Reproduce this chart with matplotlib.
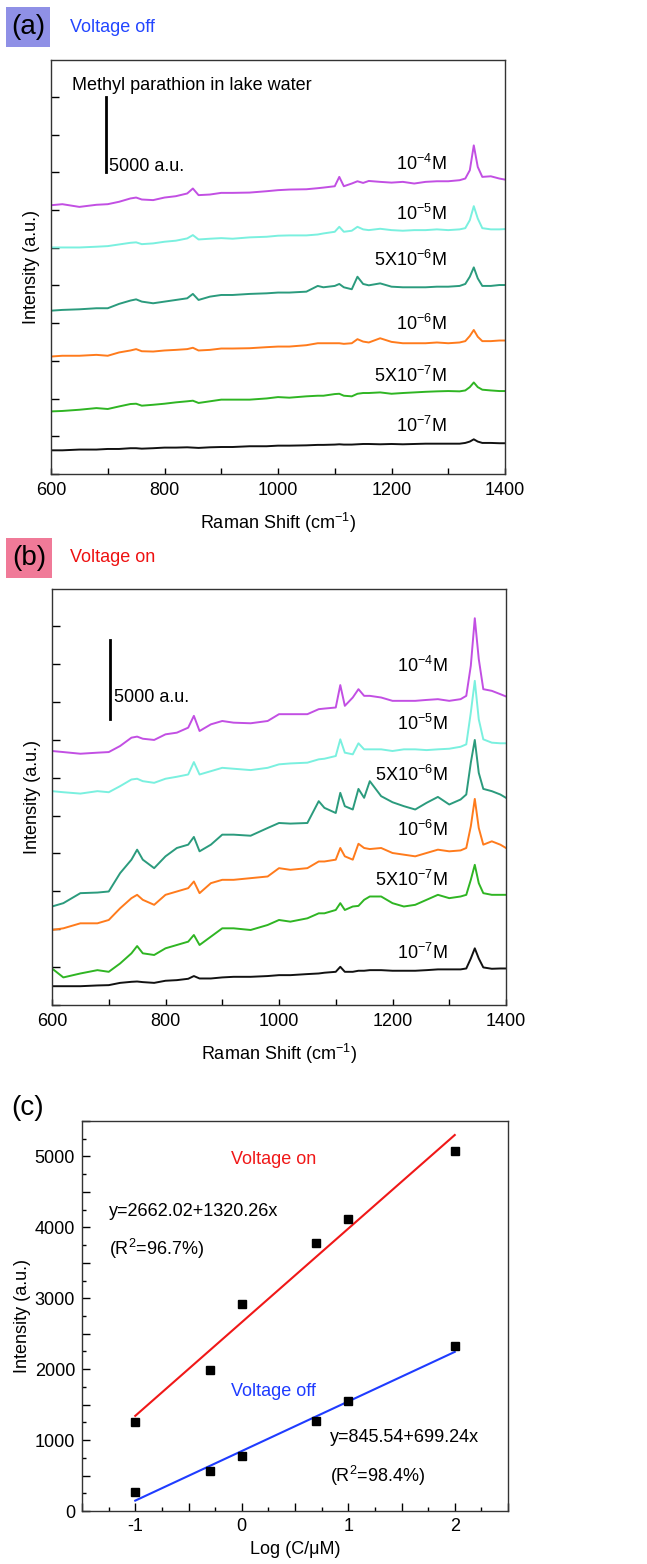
import matplotlib
matplotlib.use('Agg')
import matplotlib.pyplot as plt
from matplotlib.patches import Rectangle
from matplotlib.ticker import MultipleLocator, FuncFormatter

plt.rcParams['font.family'] = ['Liberation Sans', 'DejaVu Sans']
plt.rcParams['mathtext.default'] = 'regular'
plt.rcParams['font.size'] = 13

# eje x comun (Raman shift, cm-1)
shift = [600, 620, 650, 680, 700, 720, 740, 750, 760, 780,
         800, 820, 840, 850, 860, 880, 900, 920, 950, 980,
         1000, 1020, 1050, 1070, 1080, 1100, 1108, 1116, 1130, 1140,
         1150, 1160, 1180, 1200, 1220, 1240, 1260, 1280, 1300, 1320,
         1330, 1338, 1345, 1352, 1360, 1375, 1390, 1400]

etiquetas = ['10$^{-4}$M', '10$^{-5}$M', '5X10$^{-6}$M',
             '10$^{-6}$M', '5X10$^{-7}$M', '10$^{-7}$M']

# (a) voltage off, espectros apilados (a.u.)
off_1e4 = [17820, 17890, 17710, 17850, 17890, 18050, 18270, 18330, 18200, 18160,
           18330, 18420, 18600, 18930, 18490, 18530, 18640, 18640, 18660, 18750,
           18820, 18860, 18880, 18950, 18990, 19080, 19700, 19080, 19260, 19410,
           19300, 19430, 19370, 19320, 19370, 19260, 19370, 19410, 19410, 19480,
           19590, 20140, 21790, 20360, 19700, 19740, 19590, 19520]
off_1e5 = [15020, 15020, 15020, 15070, 15110, 15220, 15330, 15360, 15240, 15290,
           15400, 15470, 15620, 15840, 15550, 15600, 15640, 15600, 15690, 15730,
           15800, 15820, 15820, 15880, 15950, 16060, 16390, 16060, 16130, 16390,
           16220, 16170, 16260, 16170, 16130, 16170, 16170, 16220, 16170, 16220,
           16300, 16830, 17760, 16940, 16300, 16220, 16220, 16240]
off_5e6 = [10830, 10880, 10920, 10990, 10990, 11280, 11500, 11580, 11430, 11320,
           11430, 11540, 11650, 11940, 11540, 11760, 11870, 11870, 11940, 11980,
           12030, 12030, 12090, 12470, 12380, 12470, 12600, 12380, 12250, 13080,
           12600, 12510, 12640, 12420, 12380, 12380, 12380, 12420, 12420, 12470,
           12600, 13080, 13700, 12970, 12470, 12470, 12530, 12530]
off_1e6 = [7790, 7840, 7840, 7900, 7840, 8060, 8190, 8280, 8140, 8120,
           8190, 8230, 8280, 8370, 8190, 8230, 8320, 8320, 8340, 8410,
           8450, 8450, 8540, 8670, 8670, 8670, 8670, 8630, 8670, 8940,
           8780, 8720, 9000, 8760, 8670, 8670, 8670, 8720, 8670, 8720,
           8810, 9150, 9550, 9100, 8810, 8810, 8850, 8850]
off_5e7 = [4150, 4180, 4260, 4370, 4310, 4480, 4640, 4660, 4530, 4590,
           4660, 4750, 4820, 4860, 4710, 4820, 4930, 4930, 4930, 5010,
           5100, 5060, 5150, 5190, 5190, 5300, 5320, 5190, 5150, 5320,
           5370, 5370, 5410, 5320, 5370, 5410, 5450, 5480, 5500, 5480,
           5540, 5760, 6070, 5760, 5590, 5540, 5500, 5500]
off_1e7 = [1570, 1570, 1620, 1620, 1660, 1660, 1710, 1710, 1680, 1710,
           1750, 1750, 1770, 1750, 1730, 1770, 1790, 1790, 1840, 1840,
           1880, 1880, 1900, 1930, 1930, 1950, 1970, 1950, 1950, 1970,
           1990, 1990, 1970, 1990, 1970, 1990, 2010, 2010, 2010, 2010,
           2060, 2150, 2300, 2150, 2060, 2060, 2040, 2040]

# (b) voltage on
on_1e4 = [16760, 16690, 16580, 16650, 16690, 17090, 17640, 17710, 17570, 17490,
          17860, 17970, 18300, 19080, 18080, 18520, 18740, 18630, 18590, 18740,
          19190, 19190, 19190, 19520, 19560, 19630, 21110, 19740, 20290, 20840,
          20400, 20400, 20290, 20070, 20070, 20070, 20130, 20180, 20070, 20180,
          20400, 22390, 25520, 22830, 20840, 20730, 20510, 20360]
on_1e5 = [14110, 14040, 13950, 14110, 14040, 14440, 14880, 14930, 14770, 14660,
          14930, 15060, 15210, 16030, 15210, 15430, 15650, 15590, 15500, 15650,
          15880, 15940, 15990, 16210, 16250, 16430, 17530, 16650, 16540, 17270,
          16870, 16870, 16870, 16760, 16870, 16870, 16820, 16870, 16910, 17040,
          17200, 19300, 21390, 18850, 17530, 17310, 17270, 17270]
on_5e6 = [6500, 6720, 7380, 7420, 7490, 8700, 9590, 10250, 9590, 9030,
          9810, 10360, 10580, 11090, 10140, 10580, 11240, 11240, 11170, 11680,
          12010, 11970, 12010, 13450, 13010, 12670, 14000, 13120, 12900, 14260,
          13670, 14770, 13780, 13380, 13120, 12900, 13340, 13730, 13230, 13560,
          13890, 15990, 17490, 15320, 14260, 14110, 13890, 13670]
on_1e6 = [4950, 5060, 5390, 5390, 5610, 6380, 7050, 7270, 6940, 6610,
          7270, 7490, 7710, 8150, 7380, 8040, 8260, 8260, 8370, 8480,
          9030, 8920, 9030, 9470, 9470, 9590, 10360, 9810, 9590, 10640,
          10360, 10290, 10360, 10030, 9920, 9810, 10030, 10250, 10140, 10200,
          10360, 11790, 13600, 11680, 10580, 10800, 10580, 10360]
on_5e7 = [2410, 1820, 2080, 2300, 2190, 2740, 3410, 3890, 3410, 3300,
          3740, 3960, 4180, 4620, 3960, 4510, 5060, 5060, 4950, 5280,
          5610, 5500, 5720, 6050, 6050, 6270, 6720, 6270, 6500, 6540,
          6940, 7160, 7160, 6720, 6500, 6610, 6940, 7270, 7050, 7160,
          7270, 8260, 9250, 8040, 7380, 7270, 7270, 7270]
on_1e7 = [1240, 1240, 1240, 1290, 1310, 1460, 1530, 1550, 1510, 1460,
          1600, 1640, 1730, 1910, 1750, 1750, 1820, 1860, 1860, 1910,
          1970, 1970, 2040, 2080, 2130, 2190, 2520, 2190, 2190, 2260,
          2260, 2300, 2300, 2260, 2260, 2260, 2300, 2350, 2350, 2350,
          2410, 3070, 3740, 3070, 2480, 2390, 2410, 2410]

# (c) intensidad del pico 1345 cm-1 vs log(C/uM)
log_c = [-1, -0.3, 0, 0.7, 1, 2]
pico_on = [1250, 1990, 2920, 3780, 4120, 5070]
pico_off = [270, 565, 780, 1275, 1545, 2320]
ajuste_on = [2662.02, 1320.26]
ajuste_off = [845.54, 699.24]

colores = ['#c24fe3', '#7af0df', '#2b9b7d', '#ff7b1c', '#2fb523', '#111111']

W, H = 647, 1564
fig = plt.figure(figsize=(W / 100, H / 100), dpi=100)


def caja(x0, y0, x1, y1):
    return [x0 / W, 1 - y1 / H, (x1 - x0) / W, (y1 - y0) / H]


def encabezado(letra, texto, color_caja, color_texto, x0, y0, x1, y1):
    if color_caja is not None:
        fig.add_artist(Rectangle((x0 / W, 1 - y1 / H), (x1 - x0) / W, (y1 - y0) / H,
                                 transform=fig.transFigure, facecolor=color_caja,
                                 edgecolor='none'))
    fig.text((x0 + x1) / 2 / W, 1 - (y0 + y1) / 2 / H, letra, ha='center',
             va='center', fontsize=20)
    if texto:
        fig.text(70 / W, 1 - (y0 + y1) / 2 / H, texto, ha='left', va='center',
                 fontsize=13, color=color_texto)


def estilo(ax):
    for s in ax.spines.values():
        s.set_color('#333333')
        s.set_linewidth(1.0)


def graficador_espectros(ax, curvas, y_etiquetas, barra, y_texto):
    for y, c in zip(curvas, colores):
        ax.plot(shift, y, color=c, lw=1.4)
    for lab, yy in zip(etiquetas, y_etiquetas):
        ax.text(1297, yy, lab, ha='right', va='center', fontsize=13)
    ax.plot([barra[0], barra[0]], [barra[1], barra[2]], color='black', lw=2)
    ax.text(barra[0] + 6, y_texto, '5000 a.u.', ha='left', va='center', fontsize=13)
    ax.set_xlim(600, 1400)
    ax.set_ylim(0, 27450)
    ax.xaxis.set_major_locator(MultipleLocator(200))
    ax.xaxis.set_minor_locator(MultipleLocator(100))
    ax.yaxis.set_major_locator(MultipleLocator(2500))
    ax.tick_params(which='both', direction='in', length=4, width=1,
                   labelleft=False, labelsize=13, pad=6)
    ax.tick_params(axis='y', length=6)
    ax.set_xlabel('Raman Shift (cm$^{-1}$)', fontsize=13, labelpad=8)
    ax.set_ylabel('Intensity (a.u.)', fontsize=13, labelpad=8)
    estilo(ax)


# panel (a)
encabezado('(a)', 'Voltage off', '#8f90e6', '#2346ff', 6, 7, 50, 47)
ax_a = fig.add_axes(caja(51, 60, 505, 474))
graficador_espectros(ax_a, [off_1e4, off_1e5, off_5e6, off_1e6, off_5e7, off_1e7],
                     [20580, 17210, 14190, 9950, 6470, 3210],
                     [697, 20000, 25000], 20400)
ax_a.text(637, 25750, 'Methyl parathion in lake water', ha='left', va='center',
          fontsize=13)

# panel (b)
encabezado('(b)', 'Voltage on', '#f07a98', '#ee1111', 6, 538, 52, 578)
ax_b = fig.add_axes(caja(52, 589, 506, 1005))
graficador_espectros(ax_b, [on_1e4, on_1e5, on_5e6, on_1e6, on_5e7, on_1e7],
                     [22390, 18520, 15210, 11570, 8260, 3450],
                     [703, 18850, 24100], 20290)

# panel (c)
encabezado('(c)', '', None, None, 8, 1090, 48, 1126)
ax_c = fig.add_axes(caja(82, 1121, 508, 1511))
x_fit = [min(log_c), max(log_c)]
ax_c.plot(x_fit, [ajuste_on[0] + ajuste_on[1] * x for x in x_fit], color='#f01818', lw=1.5)
ax_c.plot(x_fit, [ajuste_off[0] + ajuste_off[1] * x for x in x_fit], color='#1f3cff', lw=1.5)
ax_c.plot(log_c, pico_on, 's', color='black', ms=5.5, ls='none')
ax_c.plot(log_c, pico_off, 's', color='black', ms=5.5, ls='none')
ax_c.text(-0.10, 4960, 'Voltage on', color='#f01818', ha='left', va='center', fontsize=13)
ax_c.text(-1.245, 4230, 'y=2662.02+1320.26x', ha='left', va='center', fontsize=13)
ax_c.text(-1.245, 3690, '(R$^2$=96.7%)', ha='left', va='center', fontsize=13)
ax_c.text(-0.10, 1690, 'Voltage off', color='#1f3cff', ha='left', va='center', fontsize=13)
ax_c.text(0.825, 1030, 'y=845.54+699.24x', ha='left', va='center', fontsize=13)
ax_c.text(0.825, 490, '(R$^2$=98.4%)', ha='left', va='center', fontsize=13)
ax_c.set_xlim(-1.5, 2.5)
ax_c.set_ylim(0, 5500)
ax_c.xaxis.set_major_locator(MultipleLocator(0.5))
ax_c.xaxis.set_minor_locator(MultipleLocator(0.25))
ax_c.yaxis.set_major_locator(MultipleLocator(500))
ax_c.yaxis.set_minor_locator(MultipleLocator(250))
ax_c.xaxis.set_major_formatter(FuncFormatter(
    lambda v, p: '%d' % round(v) if abs(v - round(v)) < 1e-6 else ''))
ax_c.yaxis.set_major_formatter(FuncFormatter(
    lambda v, p: '%d' % round(v) if abs(v % 1000) < 1e-6 else ''))
ax_c.tick_params(which='major', direction='in', length=6, width=1, labelsize=13, pad=5)
ax_c.tick_params(which='minor', direction='in', length=3, width=1)
ax_c.set_xlabel('Log (C/μM)', fontsize=13, labelpad=4)
ax_c.set_ylabel('Intensity (a.u.)', fontsize=13, labelpad=3)
estilo(ax_c)

fig.savefig('out.png', dpi=100)
